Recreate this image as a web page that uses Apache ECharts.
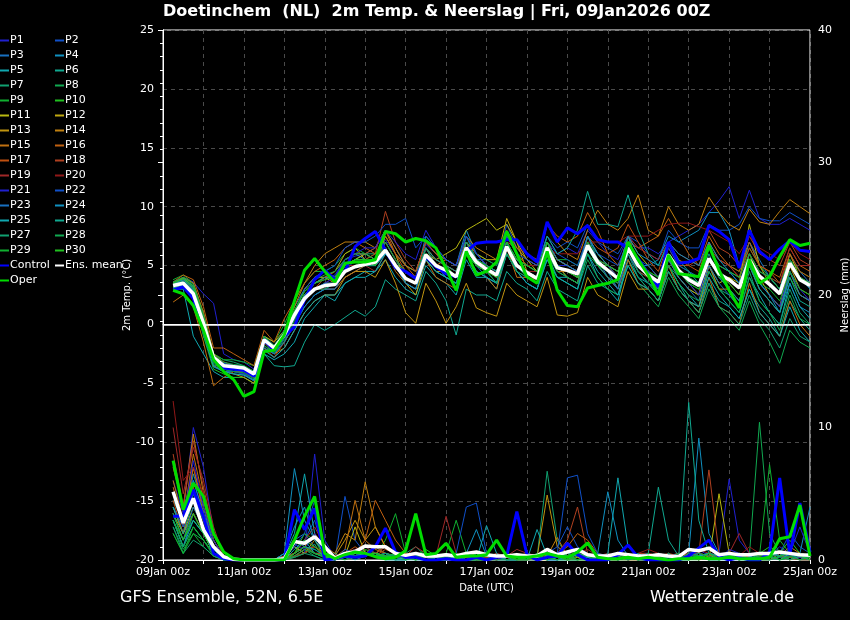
<!DOCTYPE html>
<html lang="en">
<head>
<meta charset="UTF-8">
<title>Doetinchem GFS Ensemble</title>
<script src="https://cdn.jsdelivr.net/npm/echarts@6/dist/echarts.min.js"></script>
<style>
  html, body { margin: 0; padding: 0; background: #000; }
  #main { width: 850px; height: 620px; }
</style>
</head>
<body>
<div id="main"></div>
<script>
// 6-hourly steps, 09Jan 06z ... 25Jan 00z (64 values per series)
var dayLabels = ['09Jan 00z', '11Jan 00z', '13Jan 00z', '15Jan 00z', '17Jan 00z', '19Jan 00z', '21Jan 00z', '23Jan 00z', '25Jan 00z']

// ---- 2m temperature (°C) ----
var tControl = [2.9,3.2,2.2, -0.5,-3.0,-3.7,-3.8, -3.9,-4.4,-1.3,-2.2, -1.0,-0.2,2.1,3.8, 4.6,3.8,4.5,6.6, 7.3,7.9,6.3,4.8, 4.5,3.9,5.75,4.9, 4.3,4.05,6.2,6.9, 7.0,7.0,7.2,7.2, 6.0,5.3,8.7,7.0, 8.2,7.7,8.4,7.2, 7.0,7.0,6.5,5.6, 4.3,3.2,7.0,5.2, 5.3,5.6,8.4,7.9, 7.2,4.8,8.0,6.2, 5.5,6.4,7.1,6.3, 6.2]
var tOper = [2.9,2.6,1.6, -0.5,-3.0,-4.0,-4.7, -6.1,-5.7,-2.3,-2.2, -0.9,2.0,4.6,5.6, 4.5,3.6,5.2,5.3, 5.3,5.5,7.9,7.7, 7.0,7.3,7.1,6.5, 4.75,2.9,6.2,4.2, 4.5,5.3,7.9,6.0, 4.05,3.5,6.2,2.9, 1.6,1.5,3.1,3.3, 3.5,3.8,7.0,5.5, 4.2,2.5,5.9,4.3, 4.2,4.05,6.7,4.6, 2.9,1.4,5.5,3.5, 4.05,5.75,7.2,6.7, 6.9]
var tMean = [3.3,3.5,2.6, 0.1,-2.8,-3.5,-3.6, -3.7,-4.2,-1.3,-2.0, -0.9,0.8,2.2,3.0, 3.3,3.4,4.5,4.9, 5.1,5.3,6.3,5.0, 3.9,3.5,5.9,5.0, 4.6,4.05,6.5,5.3, 4.7,4.2,6.6,5.0, 4.4,3.9,6.5,4.8, 4.6,4.3,6.7,5.3, 4.6,3.9,6.5,5.0, 4.2,3.6,5.9,4.6, 3.8,3.3,5.6,4.3, 3.8,3.1,5.5,4.1, 3.4,2.6,5.2,3.8, 3.3]

var tP01 = [3.4,4.0,3.6, 2.6,1.8,-2.5,-3.0, -3.2,-3.8,-1.0,-1.8, -0.5,1.0,2.5,3.5, 3.8,4.2,5.5,5.8, 6.0,5.5,7.2,6.0, 5.0,4.5,6.8,6.0, 5.5,5.0,7.0,6.0, 5.0,4.5,6.5,5.5, 5.0,4.5,7.0,6.0, 6.5,6.0,8.0,7.0, 6.0,5.5,7.5,6.5, 6.5,6.0,7.0,7.5, 8.0,8.5,9.5,10.5, 11.7,9.0,11.4,9.0, 8.5,8.5,9.0,8.5, 8.0]
var tP02 = [3.0,3.6,3.0, 0.5,-3.0,-3.5,-3.5, -3.6,-4.0,-1.5,-2.2, -1.0,0.5,2.0,3.0, 3.5,3.5,4.5,5.5, 6.0,6.5,8.0,6.5, 5.0,4.5,7.0,6.0, 5.0,4.5,7.0,5.5, 5.5,5.0,8.5,6.5, 5.5,5.0,7.5,6.5, 7.0,6.5,8.5,7.0, 6.5,6.0,7.5,7.0, 6.0,5.5,8.0,7.0, 6.5,6.5,8.5,8.0, 8.0,8.5,10.0,9.0, 8.8,8.8,9.5,9.0, 8.5]
var tP03 = [3.2,3.4,2.8, -0.5,-3.5,-4.0,-4.0, -4.2,-4.5,-1.8,-2.5, -1.5,0.0,1.5,2.5, 3.0,3.0,4.0,4.5, 5.0,5.0,6.0,5.0, 3.5,3.0,6.5,5.0, 4.0,3.5,6.0,5.0, 4.5,3.5,7.0,4.5, 4.0,3.5,5.5,4.0, 3.5,3.0,6.5,5.5, 4.0,3.0,6.0,4.5, 3.5,2.5,5.5,4.5, 4.0,3.5,6.5,5.0, 4.5,4.0,7.0,5.5, 4.0,3.0,6.0,4.5, 3.5]
var tP04 = [3.6,4.0,3.2, 0.0,-3.0,-3.5,-3.8, -4.0,-4.5,-1.0,-2.0, -0.5,1.5,3.0,4.0, 4.5,4.0,5.5,6.0, 5.5,5.0,7.0,5.5, 4.5,4.0,7.5,6.5, 5.5,5.0,8.0,6.0, 5.0,4.0,6.5,5.0, 4.0,3.5,7.0,5.5, 5.0,4.5,7.5,5.5, 4.5,3.0,7.5,5.0, 5.0,5.5,7.5,7.0, 7.5,8.0,9.5,9.5, 8.0,5.0,7.0,5.0, 4.0,3.0,5.5,4.0, 3.0]
var tP05 = [3.0,3.0,-1.0, -2.5,-4.0,-4.5,-4.5, -4.5,-5.0,-2.5,-3.0, -2.5,-1.5,0.5,1.5, 2.5,2.0,3.5,4.0, 4.5,4.5,5.5,4.0, 3.0,2.5,5.0,4.0, 3.5,2.5,5.5,4.0, 4.0,3.0,6.0,4.5, 3.5,3.0,6.0,4.0, 4.0,3.5,6.0,4.0, 3.0,2.0,5.5,4.0, 3.5,3.0,5.0,3.5, 2.5,1.5,4.5,3.0, 2.0,1.0,4.0,2.5, 1.0,0.0,3.5,1.5, 0.5]
var tP06 = [3.6,3.8,3.0, 0.5,-2.8,-3.8,-4.0, -3.8,-4.0,-2.5,-3.5, -3.6,-3.5,-1.5,0.0, -0.5,0.0,0.6,1.2, 0.7,1.5,3.8,3.0, 2.5,2.0,4.5,3.5, 2.0,-0.9,3.0,2.5, 2.5,2.0,4.5,3.5, 3.0,2.0,4.5,3.0, 2.5,2.0,5.0,3.5, 3.0,2.5,5.5,4.0, 3.0,2.0,5.0,3.5, 2.0,1.0,3.5,2.0, 1.5,0.5,3.0,1.5, 0.5,-1.0,2.0,0.5, -0.5]
var tP07 = [3.5,3.9,3.3, 0.5,-2.5,-3.0,-3.2, -3.5,-4.0,-1.5,-2.5, -1.5,0.0,1.5,2.5, 3.0,3.5,5.0,5.5, 6.0,6.0,7.0,5.5, 4.0,3.5,6.0,5.0, 4.5,4.0,7.5,5.5, 5.0,4.5,7.0,5.5, 4.5,4.0,6.5,5.0, 4.0,3.5,6.5,5.5, 4.5,4.0,6.0,4.5, 4.0,3.0,5.0,4.0, 3.0,2.5,5.0,3.0, 2.5,1.5,4.5,2.0, 1.0,0.0,3.0,1.0, 0.0]
var tP08 = [3.2,3.5,3.0, 0.0,-3.2,-3.8,-4.0, -4.2,-4.8,-1.5,-2.0, -1.0,0.5,2.0,3.0, 3.5,3.5,4.5,5.0, 5.0,5.0,6.0,5.0, 4.0,3.5,5.5,4.5, 4.0,3.5,6.0,5.0, 4.5,3.5,6.5,4.5, 3.5,3.0,5.5,4.0, 3.5,3.0,5.5,4.0, 3.0,2.5,5.0,3.5, 2.5,1.5,4.0,2.5, 1.5,0.5,3.0,1.5, 0.5,-0.5,2.0,0.0, -1.5,-3.3,-0.5,-1.5, -2.0]
var tP09 = [3.8,4.2,3.5, 1.0,-2.5,-3.0,-3.0, -3.2,-3.5,-1.0,-1.5, 0.0,2.0,3.5,4.5, 4.5,5.0,6.0,6.5, 6.0,5.5,7.5,6.0, 5.0,4.5,6.5,5.5, 5.0,4.5,7.0,6.0, 5.5,5.0,7.5,6.0, 5.0,4.5,7.0,5.5, 5.5,5.0,7.0,6.0, 5.0,4.0,7.0,5.5, 4.5,4.0,6.0,5.0, 4.5,4.0,6.5,5.5, 5.0,4.5,6.5,5.0, 4.0,3.5,5.5,4.5, 4.0]
var tP10 = [3.0,3.3,2.5, -1.0,-3.8,-4.2,-4.5, -4.5,-5.0,-2.0,-2.5, -1.5,0.5,2.5,3.5, 4.0,4.0,5.0,5.5, 5.5,6.0,7.0,5.5, 4.5,4.0,6.5,5.5, 5.0,4.0,6.0,5.0, 4.5,4.0,6.5,5.0, 4.5,4.0,6.5,5.0, 4.5,4.0,6.5,5.0, 5.0,4.5,7.0,5.5, 4.5,3.5,6.0,4.5, 3.5,3.0,5.5,4.0, 4.0,3.0,5.0,3.5, 2.5,1.5,4.0,2.5, 2.0]
var tP11 = [3.4,3.9,3.2, 0.5,-2.8,-3.2,-3.5, -3.8,-4.2,-1.5,-2.0, -1.0,0.5,2.5,3.5, 4.0,3.5,5.0,5.5, 6.0,5.5,6.5,5.0, 4.5,4.0,6.0,5.5, 6.0,6.5,8.0,8.5, 9.0,8.0,8.5,7.0, 5.5,4.5,7.0,5.5, 5.0,4.5,6.5,5.5, 5.0,4.5,7.5,6.0, 5.0,4.0,6.0,4.5, 3.5,2.5,5.0,3.5, 4.0,3.5,8.5,5.0, 3.5,2.5,6.0,4.0, 3.5]
var tP12 = [3.3,3.6,2.8, -0.5,-3.0,-3.5,-3.5, -3.6,-4.0,-1.0,-1.5, -0.5,1.0,3.0,4.0, 4.0,4.5,6.0,6.5, 5.5,5.0,7.5,6.0, 3.5,2.5,5.5,4.5, 4.5,4.0,7.0,6.0, 5.5,5.5,9.0,7.0, 4.5,3.5,7.0,5.0, 4.0,3.5,7.5,6.0, 5.0,4.0,7.0,5.5, 4.0,3.0,5.5,4.0, 3.0,2.5,7.0,4.5, 3.5,2.5,6.0,4.0, 2.5,1.5,5.0,3.0, 2.5]
var tP13 = [3.0,3.4,2.5, -0.5,-3.5,-4.0,-4.2, -4.5,-5.0,-2.0,-2.5, -2.0,-0.5,1.0,2.0, 2.5,2.5,4.0,4.5, 4.5,4.0,5.5,3.5, 1.0,0.1,3.5,2.0, 0.1,1.5,3.5,1.4, 1.0,0.7,3.5,2.5, 2.0,1.5,4.0,0.8, 0.7,1.0,4.0,2.5, 2.0,1.5,4.5,3.0, 3.0,2.0,4.5,3.0, 2.0,1.5,5.0,3.0, 3.0,2.0,5.0,3.0, 2.0,1.0,4.5,2.5, 2.0]
var tP14 = [3.5,4.0,3.5, 1.0,-2.5,-3.2,-3.5, -3.8,-4.2,-1.5,-2.0, -0.5,1.5,3.5,5.0, 6.0,6.5,7.0,7.0, 7.0,6.5,8.0,6.5, 5.0,4.5,7.0,6.0, 5.5,5.0,7.5,6.5, 6.0,5.5,8.0,6.5, 5.5,5.0,8.5,7.0, 6.0,5.5,8.0,9.7, 8.5,8.0,9.0,11.0, 8.0,7.5,10.0,8.5, 8.0,8.5,10.8,9.5, 8.5,8.0,9.8,8.7, 8.5,9.6,10.6,10.0, 9.4]
var tP15 = [1.9,2.5,1.5, -1.5,-5.2,-4.5,-4.0, -4.0,-4.5,-1.5,-2.0, -1.0,0.5,2.0,3.0, 3.0,3.0,4.0,4.5, 5.0,5.5,6.5,4.5, 3.5,3.0,5.5,4.0, 3.5,3.0,6.0,4.5, 4.0,3.0,6.5,4.0, 4.0,3.5,6.5,4.5, 4.5,4.0,7.0,5.0, 4.0,3.0,5.5,3.5, 3.0,2.0,5.0,3.0, 2.0,1.0,4.0,1.5, 1.0,0.0,3.5,1.0, 0.0,-1.0,2.0,0.0, -1.0]
var tP16 = [3.6,4.2,3.8, 1.5,-2.0,-2.0,-2.5, -3.0,-3.5,-0.5,-1.5, 0.5,2.0,3.5,4.5, 5.0,5.5,6.5,7.0, 6.5,6.0,7.5,6.0, 5.0,4.0,6.0,5.0, 5.5,5.0,7.0,6.0, 5.0,4.5,7.0,6.5, 6.0,5.5,8.5,7.5, 7.0,7.5,9.5,8.0, 6.0,5.0,7.0,6.5, 7.0,7.5,9.0,7.5, 6.0,5.0,7.5,6.0, 5.0,4.5,7.0,5.0, 4.5,4.0,6.5,5.0, 4.5]
var tP17 = [3.3,3.7,3.0, 0.0,-3.0,-3.5,-3.8, -4.0,-4.5,-2.0,-2.8, -1.5,0.0,2.0,3.0, 4.0,4.5,5.5,6.0, 6.0,6.5,8.0,6.0, 4.5,4.0,6.5,5.5, 5.0,4.5,7.0,5.5, 5.0,4.5,7.5,6.0, 5.0,4.5,7.0,5.5, 5.0,4.5,7.5,6.5, 6.0,6.5,8.5,7.0, 5.5,4.5,7.0,5.5, 5.0,4.5,7.0,5.5, 5.0,4.0,6.5,5.0, 4.5,3.5,6.0,4.5, 4.0]
var tP18 = [3.1,3.5,2.8, -0.5,-3.5,-3.5,-3.8, -3.8,-4.2,-1.5,-2.0, -1.0,0.5,2.5,3.5, 4.0,4.0,5.0,5.5, 5.5,6.0,9.6,7.0, 5.5,4.5,7.0,6.0, 5.0,4.5,7.0,5.5, 5.0,4.0,6.5,5.0, 4.5,4.0,6.5,5.0, 4.5,4.0,7.0,5.0, 4.0,3.5,6.0,4.5, 4.0,3.5,6.5,5.0, 5.0,5.5,8.0,6.5, 6.0,5.0,7.5,6.0, 5.5,5.0,7.0,5.5, 5.0]
var tP19 = [3.5,3.8,3.0, 0.5,-3.0,-3.2,-3.5, -3.6,-4.0,-1.2,-2.0, -0.5,1.0,2.5,3.0, 3.5,4.0,5.0,5.0, 5.0,4.5,6.0,5.0, 4.0,3.5,6.5,5.0, 4.5,4.0,6.5,5.0, 4.5,4.0,6.5,5.0, 4.5,4.5,7.0,5.5, 5.0,4.5,7.0,5.5, 5.0,4.5,7.5,6.5, 6.0,5.5,7.0,6.0, 5.5,5.0,6.5,5.5, 5.0,4.0,6.0,4.5, 4.0,3.5,6.5,5.0, 5.0]
var tP20 = [3.2,3.5,2.7, 0.0,-3.2,-3.6,-3.8, -4.0,-4.4,-1.6,-2.2, -1.0,0.8,2.2,3.0, 3.5,3.5,4.5,5.0, 5.0,5.5,7.0,5.5, 4.5,4.0,6.5,5.5, 5.0,4.5,6.5,5.5, 5.0,4.5,6.5,5.5, 5.0,5.0,6.5,6.0, 6.0,6.0,7.0,7.0, 7.0,7.0,7.5,7.5, 7.5,8.0,8.5,8.6, 8.6,8.3,8.0,7.5, 7.0,6.0,7.5,6.5, 6.0,5.5,7.0,6.0, 5.5]
var tP21 = [3.3,3.7,2.9, -0.5,-3.3,-3.8,-4.0, -4.2,-4.6,-1.8,-2.5, -1.2,0.5,2.0,3.0, 3.5,4.0,5.5,6.0, 6.5,6.5,8.0,7.0, 6.0,5.5,8.0,6.5, 5.5,5.0,7.5,6.0, 5.0,4.5,7.0,5.5, 4.5,4.0,6.5,5.0, 5.0,4.5,7.0,5.5, 5.0,4.0,6.5,5.0, 4.5,3.5,6.0,4.5, 3.5,2.5,5.5,4.0, 3.0,2.0,5.0,3.5, 2.5,1.5,4.5,3.0, 2.0]
var tP22 = [3.4,3.8,3.2, 0.5,-2.8,-3.3,-3.5, -3.6,-4.0,-1.2,-1.8, -0.5,1.0,3.0,4.0, 4.5,5.0,6.5,7.0, 7.0,7.5,8.5,8.5, 9.0,6.5,7.5,6.5, 5.5,5.0,7.5,6.0, 5.0,4.5,7.5,6.0, 5.5,5.0,7.5,6.0, 5.5,5.0,7.5,6.0, 5.5,5.0,7.0,5.5, 5.0,4.0,6.5,5.0, 4.5,4.0,6.5,5.0, 4.5,3.5,6.0,4.5, 4.0,3.0,5.5,4.0, 3.5]
var tP23 = [3.0,3.3,2.6, -0.5,-3.5,-4.0,-4.2, -4.3,-4.8,-2.0,-2.5, -1.5,0.0,1.5,2.5, 3.0,3.0,4.5,5.0, 5.0,5.0,6.0,5.0, 3.5,3.0,6.0,5.0, 4.5,4.0,6.5,5.0, 4.0,3.5,6.0,4.5, 3.5,3.0,6.0,4.5, 4.0,3.5,6.5,5.0, 4.0,3.0,6.0,4.5, 3.5,3.0,5.5,4.0, 3.0,2.0,5.0,3.5, 2.5,1.5,5.0,3.0, 2.0,1.0,4.5,2.5, 2.0]
var tP24 = [3.3,3.6,2.9, 0.0,-3.0,-3.6,-3.8, -4.0,-4.3,-1.5,-2.2, -1.0,0.5,2.0,3.0, 3.5,3.5,4.5,5.0, 5.0,5.0,6.0,5.0, 3.5,3.0,5.5,4.5, 4.0,3.5,6.0,4.5, 4.0,3.5,6.5,5.0, 4.5,4.0,7.0,5.5, 5.0,4.5,7.5,6.0, 5.0,4.5,7.5,6.0, 5.5,5.0,7.0,6.0, 5.5,5.0,7.0,5.5, 4.5,3.5,5.5,3.5, 2.5,1.0,3.5,1.5, 1.0]
var tP25 = [3.1,3.4,2.6, -0.8,-3.6,-4.0,-4.2, -4.3,-4.7,-2.2,-2.8, -2.0,-0.5,1.0,2.0, 2.5,2.5,3.5,4.0, 4.0,4.5,6.0,5.0, 4.0,3.5,5.5,4.5, 4.0,3.5,6.0,4.5, 4.0,3.5,6.0,4.5, 3.5,3.0,5.5,4.0, 3.5,3.0,6.0,4.5, 3.5,2.5,5.0,3.5, 3.0,2.0,4.5,3.0, 2.0,1.5,4.0,2.5, 1.5,0.5,3.0,1.0, 0.0,-1.0,1.5,-0.5, -1.5]
var tP26 = [3.5,3.8,3.1, 0.2,-3.0,-3.5,-3.7, -3.8,-4.2,-1.4,-2.0, -0.8,1.0,2.5,3.5, 4.0,4.0,5.0,5.5, 5.5,5.0,6.5,5.0, 4.5,4.0,6.5,5.5, 5.0,4.5,7.0,5.5, 5.0,4.5,7.0,5.5, 5.0,4.5,7.5,6.0, 6.5,8.0,11.3,8.5, 8.5,8.3,11.0,8.0, 6.0,5.0,7.0,5.5, 4.5,3.5,6.0,4.0, 3.0,2.0,5.0,3.0, 2.0,1.0,4.0,2.0, 1.5]
var tP27 = [3.4,3.7,3.0, 0.0,-3.0,-3.4,-3.6, -3.7,-4.2,-1.3,-2.0, -0.8,1.0,2.5,3.0, 3.0,3.5,4.5,5.0, 5.0,5.0,6.5,5.0, 4.0,3.5,6.5,5.0, 4.5,4.0,7.0,5.5, 5.0,4.5,7.0,5.0, 4.5,4.0,7.0,5.0, 4.5,4.0,6.5,5.0, 4.0,3.5,6.0,4.0, 3.0,2.0,4.5,3.0, 2.0,1.0,3.5,1.5, 1.0,0.0,2.5,0.5, -0.5,-2.0,0.5,-1.0, -1.5]
var tP28 = [3.6,4.0,3.4, 0.8,-2.6,-3.2,-3.4, -3.5,-4.0,-1.0,-1.8, -0.5,1.2,2.8,3.8, 4.2,4.5,5.5,6.0, 6.0,5.5,7.0,5.5, 4.5,4.0,6.0,5.0, 4.5,4.0,6.5,5.0, 4.5,3.5,6.0,4.5, 4.0,3.5,6.5,5.0, 4.5,4.0,6.5,5.0, 4.5,4.0,6.5,4.5, 3.5,2.5,5.0,3.5, 2.5,2.0,4.5,3.0, 2.0,1.0,4.0,2.0, 1.0,-0.5,2.5,0.5, 0.0]
var tP29 = [3.2,3.5,2.8, -0.3,-3.4,-3.8,-4.0, -4.1,-4.6,-1.8,-2.4, -1.3,0.3,2.0,3.0, 3.3,3.5,4.5,5.0, 5.5,5.5,6.5,5.0, 4.0,3.5,6.0,5.0, 4.5,4.0,6.5,5.5, 5.0,4.0,6.5,5.0, 4.0,3.5,6.0,4.5, 4.0,3.5,6.0,5.0, 4.5,4.0,6.5,5.0, 4.0,3.5,6.0,4.5, 3.5,3.0,5.5,4.0, 3.5,2.5,5.0,3.5, 3.0,2.0,4.5,3.0, 2.5]
var tP30 = [3.5,3.9,3.2, 0.5,-2.9,-3.4,-3.6, -3.7,-4.1,-1.2,-1.8, -0.6,1.2,2.8,3.5, 3.8,4.0,5.0,5.5, 5.5,5.0,6.5,5.0, 4.0,3.5,6.0,5.0, 4.5,4.0,6.5,5.0, 4.5,4.0,7.0,5.5, 5.0,4.5,7.0,5.0, 4.5,4.0,7.0,5.5, 5.0,4.5,7.0,5.5, 4.5,4.0,6.0,4.5, 4.0,3.5,6.5,5.0, 4.5,4.0,6.0,4.5, 4.0,3.0,5.5,4.0, 3.5]

// ---- precipitation (mm / 6h) ----
var pControl = [3.3,3.3,5.3, 3.3,0.5,0.1,0, 0,0,0,0, 0,3.8,2.3,3.9, 0,0.1,0.3,0.2, 0.3,1,2.4,0.6, 0.2,0.2,0,0, 0.1,0,0,0.2, 0,0.2,0.3,3.65, 0.4,0,0.2,0.3, 1.26,0.4,0,0, 0,0.4,1.13,0.2, 0,0,0,0, 0.3,0.9,1.5,0.25, 0,0.2,0,0, 0.6,6.2,0.4,4.3, 0.6]
var pOper = [7.5,3.8,5.8, 4.8,2.0,0.6,0.1, 0,0,0,0, 0,1.5,3.3,4.8, 0.5,0.1,0.4,0.6, 0.5,0.25,0.1,0.2, 0.7,3.5,0.4,0.5, 1.26,0.2,0.3,0.3, 0.4,1.5,0.3,0.2, 0.2,0.3,0.5,0.3, 0.2,0.6,1.3,0.2, 0.1,0.1,0.2,0.1, 0.2,0.1,0,0.1, 0.1,0.2,0.1,0.1, 0.2,0.1,0.1,0.1, 0.2,1.6,1.76,4.15, 0.3]
var pMean = [5.15,2.8,4.65, 2.3,1.0,0.25,0.05, 0,0,0,0, 0.1,1.4,1.26,1.76, 1.0,0.13,0.5,0.63, 1.05,1.0,1.0,0.5, 0.35,0.5,0.3,0.3, 0.4,0.3,0.5,0.6, 0.4,0.3,0.3,0.4, 0.3,0.3,0.8,0.4, 0.6,0.8,0.4,0.3, 0.3,0.5,0.4,0.3, 0.3,0.4,0.3,0.25, 0.8,0.7,0.9,0.4, 0.5,0.4,0.4,0.5, 0.5,0.6,0.5,0.4, 0.35]

var pP01 = [6,3.5,10, 7,2,0.3,0, 0,0,0,0, 0.2,1,0.5,8, 1.5,0.2,0.5,0.3, 1,0.5,0.3,0.2, 0.1,0.3,0,0, 0.5,0.2,0,0, 0,0.3,0,0, 0,0.5,0.3,0, 0.5,0.2,0,0, 0,0.3,0.5,0, 0,0,0.3,0, 0.5,0.8,0.3,0.5, 6.1,1.5,0.5,0.2, 0.3,1,0.5,0.3, 0.2]
var pP02 = [4,2,6, 3.5,1.5,0.2,0, 0,0,0,0, 0,0.5,1.5,3, 0.5,0,4.8,1.5, 0.5,0.3,0.2,0, 0,0.5,0.2,0, 0,0,0.3,0.5, 0.2,0,0,0, 0,0,0.5,1, 2.5,1,0.5,0, 0,0,0.3,0.2, 0,0.5,0,0, 0,0.3,0.5,0, 0.5,0.3,0,0, 0,0.5,2,1, 0.5]
var pP03 = [3,1,3.5, 2,0.5,0,0, 0,0,0,0, 0,1.5,2,1, 0.3,0,0.5,0.8, 0.5,1,0.5,0.2, 0.3,0,0,0.2, 0,0.3,0.5,0, 0,0,0.2,0, 0,0.3,0,0, 0.3,0.5,0,0, 0.2,0,0,0.5, 0,0,0.2,0, 0.3,0,0.5,0.3, 0,0,0.2,0, 0.5,0.3,0.2,0, 0]
var pP04 = [5,2.5,6.5, 4,1,0.2,0, 0,0,0,0, 0.5,6.9,3,1.5, 0.5,0.3,0,0.5, 0.5,0.2,0,0, 0,0.2,0.5,0, 0.3,0,0,0.5, 0,0,0,0, 0,0,0.3,0, 0,0.5,0.2,0, 0,0.3,0,0, 0.5,0,0,0.3, 0.5,9.2,2,0.5, 0.3,0,0,0, 0,0.3,0.5,0.5, 4]
var pP05 = [4.5,3,5, 3,0.5,0,0, 0,0,0,0, 0.3,2,6.5,2, 0.2,0,0.3,0, 0.3,0.5,0.3,0, 0,0,0.3,0.2, 0,0.5,0,0, 0,0,0.2,0.3, 0,0.2,0,0, 0.3,0,0,0, 0.5,6.2,1,0.3, 0,0.2,0,0, 0.3,0,0.5,0, 0,0.3,0,0, 0.2,0,0.5,0.3, 0]
var pP06 = [3.5,1.5,3, 2,0.8,0.1,0, 0,0,0,0, 0.5,1,0.5,1.2, 0,0.5,0.2,0.3, 0.5,0.3,0,0, 0.2,0,0,0, 0.3,0,0.3,0, 0,0.5,0,0, 0,0,0.3,0.5, 0,0,0.2,0, 0,0,0.5,0, 0.5,5.5,1.5,0.3, 0,0.2,0,0, 0.3,0,0.5,0.2, 0,0.2,0.3,0.5, 0.3]
var pP07 = [3,1,2.5, 1.5,0.5,0,0, 0,0,0,0, 0,0.5,1,0.5, 0.3,0,0.2,0.5, 1,0.5,0.3,0, 0.5,1,0.3,0, 0,0.2,0,0, 0.2,0.5,0,0, 0,0.2,6.7,1.5, 0.3,0,0.2,0, 0,0.3,0,0.2, 0.5,0,0.3,0, 0,0.5,0,0.3, 0.5,0.2,0.5,0, 0.3,0,0.2,0, 0]
var pP08 = [2.5,0.8,2, 1.5,0.5,0,0, 0,0,0,0, 0,0.3,0.8,0.3, 0,0,0.3,0.2, 0.5,1,0.5,0.3, 0,0.3,0.5,0, 0.3,0,0.2,0, 0,0,0.3,0, 0.5,0.3,0,0.2, 0,0,0.3,0, 0.2,0,0,0.3, 0,0.5,0,0, 0.3,0,0.2,0.5, 0,0.5,0.3,10.4, 2,0.5,0.3,0.2, 0]
var pP09 = [2,0.5,2, 1,0.3,0,0, 0,0,0,0, 0,0.2,0.5,1, 0.5,0.2,0,0.3, 0.5,0.3,1.5,3.5, 0.5,0.2,0,0.3, 0.5,3,0.5,0, 0.2,0,0.3,0, 0,0.3,0.5,0.3, 0,0,0,0.2, 0.3,0,0.2,0, 0,0.3,0,0.5, 0,0,0.3,0, 0.2,0.5,0,0.3, 7.2,1.5,0.5,0.3, 0.2]
var pP10 = [3,1.5,3, 2,0.5,0,0, 0,0,0,0, 0,0.5,2,1.5, 0.2,0,0.5,0.3, 0.8,0.5,0.2,0.5, 0,0.3,0.8,0.3, 0,0.3,0,0, 0,0.3,0.5,0, 0.2,0,0.3,0, 0,0.5,0,0.2, 0,0,0.3,0, 0.3,0,0.5,0, 0.3,0.5,0,0.2, 0,0.3,0,0.5, 1,0.5,1.5,0.5, 0.2]
var pP11 = [4,2,4, 2.5,0.8,0.1,0, 0,0,0,0, 0,0.3,0.5,1, 0.3,0,0.3,2.5, 0.5,0.3,0.5,0, 0.2,0,0.2,0.3, 0,0,0.3,0, 0,0.5,0,0, 0.3,0,0,0.5, 0,0.2,0,0, 0.3,0,0,0.2, 0,0,0.3,0.5, 0.3,0.5,0,5, 0.5,0.3,0,0.2, 0.3,0,0.5,0.2, 0]
var pP12 = [3.5,2,3.5, 2,0.5,0,0, 0,0,0,0, 0,0.5,1,0.5, 0.2,0,0.5,0.3, 0.3,0.5,1,0.5, 0.2,0,0.3,0, 0,0.2,0,0, 0,0.3,0,0.2, 0,0,0.5,0.3, 0.2,0,0,0, 0,0.3,0,0, 0,0.2,0.5,0, 0.3,0,0.3,0.5, 0,0.2,0,0, 0,0.5,0.3,0.2, 0]
var pP13 = [5,3,7, 4,1.5,0.2,0, 0,0,0,0, 0.3,1,0.5,1.5, 0.5,0.3,1.5,3, 1.5,2.5,1,0.5, 0.3,0.5,0.3,0, 0.5,0,0.2,0.5, 0.3,0,0,0.3, 0.5,0.2,4.9,1, 0.5,0.3,0.5,0.2, 0,0.5,0,0.3, 0.2,0,0.5,0, 0.3,0.5,0.3,0, 0.5,0.3,0.2,0, 0.3,0.5,0,0.5, 0.3]
var pP14 = [7,4,9.5, 5,2,0.3,0, 0,0,0,0, 0,0.5,1,2, 1,0.5,2,1.5, 5.9,2.5,1,0.5, 0.3,0.5,0.3,0, 0.3,0.5,0,0.3, 0,0.2,0.5,0, 0,0.5,0.3,1.7, 0.3,0,0.5,0.2, 0,0,0.3,0, 0.5,0,0.2,0.5, 0,0.5,0.3,0.2, 0.5,0.3,0,0.3, 0.5,0.3,1,0.5, 0.3]
var pP15 = [6,3,8, 4.5,1.5,0.2,0, 0,0,0,0, 0,1.5,1,0.5, 0.5,0.2,0.8,4.5, 1.5,0.8,0.5,0.3, 0.5,0.3,0,0.2, 0.3,0,0.5,0, 0.2,0.3,0,0, 0.3,0,0.5,0.3, 0,0.5,0.3,0, 0.2,0.5,0,0, 0.3,0.5,0.3,0, 0.5,0.3,0,0.5, 0.3,0,0.3,0.5, 0.5,0.3,0,0.2, 0]
var pP16 = [5.5,2.5,7, 3.5,1,0,0, 0,0,0,0, 0.2,0.5,1.5,1, 0.5,0,0.3,0.5, 1.5,4.5,3,1.5, 0.5,0.2,0.5,0.3, 0,0.3,0.5,0, 0,0,0.3,0.5, 0,0.3,0,0.5, 1,2,1.5,0.5, 0.3,0,0.5,0.2, 0,0.3,0,0.5, 0.3,0,0.5,0.3, 0,0.5,0.3,0, 0.3,0.5,0,0.3, 0.2]
var pP17 = [4.5,2,5.5, 3,1,0.1,0, 0,0,0,0, 0,0.3,0.8,1, 0.3,0,0.5,1, 0.5,0.3,0.8,0.5, 0.2,0.5,0.3,0, 0.3,0,0,0.3, 0,0.5,0.2,0, 0.3,0,0.2,0, 0.5,0.3,0,0, 0.3,0.5,0.3,0, 0.2,0,0.5,0.3, 0,0.5,0.3,0.5, 0.3,0.5,0,0.2, 0.3,0.5,0.3,0, 0]
var pP18 = [8,4,9, 5.5,2,0.3,0, 0,0,0,0, 0.3,0.5,1,0.5, 0.5,0.3,0.5,0.5, 0.5,1,0.5,0.3, 0.5,0.3,0.2,0, 0.5,0.3,0,0.3, 0.2,0,0.5,0, 0,0.3,0.5,0.5, 1.5,4,0.5,0.3, 0,0.3,0,0.5, 0.5,0.3,0,0.3, 0.5,0.5,6.8,0.5, 0.3,0,0.3,0, 0.5,0.3,0.2,0, 0]
var pP19 = [10,5,8.5, 6,2.5,0.3,0, 0,0,0,0, 0,0.5,1.5,2.5, 1,0.3,0.5,0.8, 1,0.5,1,0.5, 0.3,1,0.5,0.3, 3.3,0.5,0.3,0, 0.2,0.5,0.3,0.8, 0.5,0.3,0.2,0.5, 0.3,0.5,0.8,0.3, 0.5,0.3,0,0.2, 0.5,0.3,0.5,0, 0.3,0.8,0.5,0.3, 0.5,2,0.5,0.3, 0.5,0.3,0.5,0.3, 0.2]
var pP20 = [12,6,7, 5,2,0.3,0, 0,0,0,0, 0,0.3,0.5,1, 0.3,0,0.3,0.5, 0.5,0.3,0.5,0.2, 0.3,0.5,0.3,0, 0.3,0.2,0.5,0, 0.3,0,0.2,0.5, 0.3,0,0.5,0.3, 0,0.3,0.5,0.2, 0.3,0.5,0.3,0.5, 0.8,0.5,0.3,0.5, 0.5,0.3,0.5,0.3, 0.5,0.3,1,0.5, 0.3,0.5,0.3,0.2, 0.3]
var pP21 = [5,3,7.5, 4,1.5,0.2,0, 0,0,0,0, 0,1.2,0.8,2, 0.5,0.2,0.5,0.3, 0.5,0.3,0.5,0.2, 0.2,0.3,0,0, 0.5,0.3,0,0, 0,0.3,0,0.3, 0.2,0,0.3,0.2, 0.5,0.3,0,0.2, 0.3,0,0.2,0, 0,0.5,0,0, 0.3,0.5,0.3,0, 0.8,0.5,0.3,0, 0.5,0.3,0.5,2.5, 0.5]
var pP22 = [4,2.5,5, 3,1,0,0, 0,0,0,0, 0.2,1,2,4.5, 0.3,0,0.8,0.5, 0.3,0.5,0.3,0.2, 0.3,0.5,0,0, 0,0.5,4,4.3, 0.5,0.2,0,0, 0.3,0,0.3,0.5, 6.2,6.4,2,0.5, 0.3,0,0.2,0, 0.3,0,0.5,0, 0.2,0.3,0,0.5, 0.3,0,0.2,0, 0.3,0.5,0.3,0.2, 0]
var pP23 = [3.5,1.5,4, 2.5,0.8,0,0, 0,0,0,0, 0,1.5,1,0.8, 0.3,0,0.5,0.3, 0.5,0.3,0.5,0, 0.3,0,0.3,0.2, 0,0.3,0.5,0, 0,0.3,0,0, 0.3,0.2,0,0, 0.2,0.5,0.3,0, 0,0.5,0,0.3, 0.5,0,0.3,0, 0.3,0.5,0,0, 0.5,0.3,0,0.2, 0,0.3,0.5,0, 0.3]
var pP24 = [5,3,6, 3.5,1,0.2,0, 0,0,0,0, 0.5,2.5,4,1.5, 0.5,0.2,0.3,0.5, 0.5,0.2,0.5,0.3, 0.2,0,0.5,0, 0.3,0,0.5,2.3, 0.3,0,0,0.3, 0,0.5,0,0, 0.5,0.3,0.2,0.5, 5.15,1.5,0.3,0, 0.2,0.5,0.3,0, 0.5,0.3,0.5,0.3, 0.3,0.5,0.3,0, 0.5,0.3,0.5,0.3, 0.5]
var pP25 = [3,1,3, 2,0.5,0,0, 0,0,0,0, 0,0.8,1.5,0.5, 0.2,0,0.3,0.2, 0.3,0.5,0.3,0, 0.2,0.3,0,0, 0,0.3,0,0, 2.6,0.5,0,0, 0,2.3,0.3,0, 0.3,0,0.2,0, 0,0.3,0,0.2, 0.3,0,0.2,0.5, 0,0.3,0.5,0, 0.2,0.5,0.3,0, 0.3,0,0.5,0.3, 0]
var pP26 = [4,2,4.5, 2.5,0.8,0,0, 0,0,0,0, 0,0.5,1,0.8, 0.3,0,0.5,0.3, 0.5,0.3,0.2,0.5, 0,0.3,0.5,0, 0.3,0,0,0.5, 0,0.3,0,0, 0.5,0,0.3,0, 0,0.5,0.3,0, 0.5,0,0.3,0.5, 0,0.3,0,0, 11.9,3,0.5,0.3, 0,0.3,0,0.5, 0.3,0.5,0,0.3, 0.2]
var pP27 = [2.5,0.5,1.5, 1,0.3,0,0, 0,0,0,0, 0,0.2,0.5,0.3, 0,0,0.2,0.3, 0.3,0.5,0.3,0, 0,0.2,0.3,0, 0.5,0,0,0.2, 0,0.3,0,0, 0.2,0,0.3,0.5, 0,0,0.3,0, 0.2,0.5,0,0.2, 0,0.5,0,0.2, 0.3,0,0.5,0.3, 0,0.5,0,0.3, 0.5,0.3,0,0.5, 0.3]
var pP28 = [3,1,2.5, 1.5,0.3,0,0, 0,0,0,0, 0,0.3,0.8,0.5, 0.2,0,0.3,0.5, 0.5,0.3,0.5,0.3, 0.2,0,0.3,0, 0,0.5,0,0, 0.3,0,0,0.2, 0,0.3,0,0.5, 0.3,0,0,0.3, 0,0.5,0,0.3, 0.3,0,0.5,0, 0.5,0.3,0,0.3, 0.5,0.3,0.5,0, 0.3,0,0.2,0.5, 0]
var pP29 = [2,0.5,2.5, 1.5,0.5,0,0, 0,0,0,0, 0,0.5,1,0.5, 0.3,0,0.5,0.3, 0.3,0.5,0.3,0.5, 0,0.3,0,0.3, 0.2,0,0.5,0, 0,0.3,0.3,0, 0.3,0,0.2,0, 0.5,0,0.3,0, 0.3,0,0.5,0, 0,0.3,0,0.5, 0,0.5,0.3,0, 0.3,0,0.5,0.3, 0.5,0,0.3,0, 0.2]
var pP30 = [3.5,1.5,3.5, 2,0.5,0,0, 0,0,0,0, 0,0.5,1.5,1, 0.3,0,0.3,0.5, 0.5,0.5,0.3,0.2, 0.3,0,0.3,0, 0.3,0.5,0,0, 0,0.3,0.5,0, 0,0.5,0,0.3, 0,0.3,0.5,0, 0.3,0,0.5,0, 0.5,0,0.3,0.2, 0.3,0,0.5,0, 0.3,0.5,0,0, 0,0.3,0.5,0.3, 0]

var tempMembers = [tP01, tP02, tP03, tP04, tP05, tP06, tP07, tP08, tP09, tP10, tP11, tP12, tP13, tP14, tP15, tP16, tP17, tP18, tP19, tP20, tP21, tP22, tP23, tP24, tP25, tP26, tP27, tP28, tP29, tP30]
var precMembers = [pP01, pP02, pP03, pP04, pP05, pP06, pP07, pP08, pP09, pP10, pP11, pP12, pP13, pP14, pP15, pP16, pP17, pP18, pP19, pP20, pP21, pP22, pP23, pP24, pP25, pP26, pP27, pP28, pP29, pP30]

// member colours repeat after P20
var memberColors = ['#2020d0', '#1050c8', '#1870c0', '#1090c0', '#10a8b0', '#10a890', '#10a070', '#10a850', '#10b030', '#20c020',
  '#b8b810', '#c0a810', '#c09410', '#c08010', '#c07010', '#c06010', '#c05010', '#b04020', '#a02828', '#901818']

var font = 'DejaVu Sans'
var hours = tMean.map(function (v, k) { return 6 * (k + 1) })

function line(name, color, width, values, axis, z) {
  return {
    name: name, type: 'line', yAxisIndex: axis, z: z,
    data: values.map(function (v, k) { return [hours[k], v] }),
    symbol: 'none', silent: true, animation: false,
    emphasis: { disabled: true },
    lineStyle: { color: color, width: width },
    itemStyle: { color: color }
  }
}

var series = []
var col1 = [], col2 = []
tempMembers.forEach(function (arr, n) {
  var name = 'P' + (n + 1)
  var c = memberColors[n % 20]
  series.push(line(name, c, 1, arr, 0, 2))
  series.push(line(name, c, 1, precMembers[n], 1, 2))
  if (n % 2 === 0) col1.push(name); else col2.push(name)
})
series.push(line('Control', '#0000ff', 3, tControl, 0, 3))
series.push(line('Control', '#0000ff', 3, pControl, 1, 3))
var meanT = line('Ens. mean', '#ffffff', 3.5, tMean, 0, 4)
meanT.markLine = {
  silent: true, symbol: 'none', label: { show: false },
  lineStyle: { color: '#ffffff', width: 1.5, type: 'solid' },
  data: [{ yAxis: 0 }]
}
series.push(meanT)
series.push(line('Ens. mean', '#ffffff', 3.5, pMean, 1, 4))
series.push(line('Oper', '#00dd00', 3, tOper, 0, 5))
series.push(line('Oper', '#00dd00', 3, pOper, 1, 5))
col1.push('Control', 'Oper')
col2.push('Ens. mean')

function legend(left, names) {
  return {
    left: left, top: 34, orient: 'vertical', padding: 0, itemGap: 2,
    icon: 'rect', itemWidth: 9, itemHeight: 2, selectedMode: false,
    textStyle: { color: '#fff', fontSize: 11, fontFamily: font, lineHeight: 13, padding: [0, 0, 0, -4] },
    data: names
  }
}

var myChart = echarts.init(document.getElementById('main'))
myChart.setOption({
  backgroundColor: '#000',
  animation: false,
  title: [
    { text: 'Doetinchem  (NL)  2m Temp. & Neerslag | Fri, 09Jan2026 00Z', left: 163, top: 4, padding: 0,
      textStyle: { color: '#fff', fontSize: 16, fontWeight: 'bold', fontFamily: font } },
    { text: 'GFS Ensemble, 52N, 6.5E', left: 120, top: 590, padding: 0,
      textStyle: { color: '#fff', fontSize: 16, fontWeight: 'normal', fontFamily: font } },
    { text: 'Wetterzentrale.de', right: 56, top: 590, padding: 0,
      textStyle: { color: '#fff', fontSize: 16, fontWeight: 'normal', fontFamily: font } }
  ],
  legend: [legend(0, col1), legend(55, col2)],
  grid: { left: 163, right: 40, top: 30, bottom: 60, show: true, borderColor: '#fff', borderWidth: 1,
    containLabel: false, outerBoundsMode: 'none' },
  xAxis: [{
    type: 'value', min: 0, max: 384, interval: 24,
    name: 'Date (UTC)', nameLocation: 'middle', nameGap: 23, nameMoveOverlap: false,
    nameTextStyle: { color: '#fff', fontSize: 10, fontFamily: font },
    axisLine: { lineStyle: { color: '#fff' } },
    axisTick: { show: false },
    axisLabel: { color: '#fff', fontSize: 11, fontFamily: font, margin: 7, showMinLabel: true, showMaxLabel: true,
      hideOverlap: false,
      formatter: function (v) { return v % 48 === 0 ? dayLabels[v / 48] : '' } },
    splitLine: { show: true, lineStyle: { color: '#4a4a4a', type: [4, 4] } }
  }, {
    type: 'value', min: 0, max: 384, interval: 24, position: 'top',
    axisLine: { lineStyle: { color: '#fff' } },
    axisTick: { show: true, inside: true, length: 4, lineStyle: { color: '#fff' } },
    axisLabel: { show: false }, splitLine: { show: false }
  }],
  yAxis: [{
    type: 'value', min: -20, max: 25, interval: 5,
    name: '2m Temp. (°C)', nameLocation: 'middle', nameGap: 31, nameRotate: 90, nameMoveOverlap: false,
    nameTextStyle: { color: '#fff', fontSize: 10, fontFamily: font },
    axisLine: { show: true, lineStyle: { color: '#fff' } },
    axisTick: { show: false },
    axisLabel: { color: '#fff', fontSize: 11, fontFamily: font, margin: 9 },
    splitLine: { show: true, lineStyle: { color: '#4a4a4a', type: [4, 4] } }
  }, {
    type: 'value', min: 0, max: 40, interval: 10, position: 'right',
    name: 'Neerslag (mm)', nameLocation: 'middle', nameGap: 30, nameRotate: 90, nameMoveOverlap: false,
    nameTextStyle: { color: '#fff', fontSize: 10, fontFamily: font },
    axisLine: { show: true, lineStyle: { color: '#fff' } },
    axisTick: { show: true, inside: true, length: 5, lineStyle: { color: '#fff' } },
    minorTick: { show: true, splitNumber: 10, length: 3, lineStyle: { color: '#fff' } },
    axisLabel: { color: '#fff', fontSize: 11, fontFamily: font, margin: 8 },
    splitLine: { show: false }
  }],
  series: series
})
</script>
</body>
</html>
